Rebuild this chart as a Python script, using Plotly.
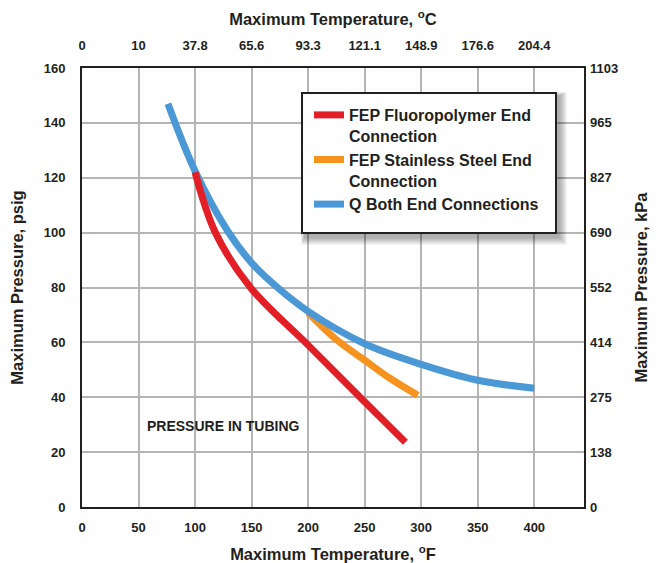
import plotly.graph_objects as go

# ---------------- data ----------------
temp_f_ticks = [0, 50, 100, 150, 200, 250, 300, 350, 400]
temp_c_labels = ["0", "10", "37.8", "65.6", "93.3", "121.1", "148.9", "176.6", "204.4"]
psig_ticks = [0, 20, 40, 60, 80, 100, 120, 140, 160]
kpa_labels = ["0", "138", "275", "414", "552", "690", "827", "965", "1103"]

fep_fluoro_f = [100, 118, 149, 200, 246, 286]
fep_fluoro_psig = [122, 100, 80, 59, 40, 23.6]

fep_ss_f = [200, 225, 250, 272, 297]
fep_ss_psig = [70.8, 61, 53.5, 47, 40.7]

q_both_f = [76, 100, 129, 150, 172, 200, 250, 300, 350, 400]
q_both_psig = [147, 122.5, 100.5, 89, 80.3, 71.3, 59.5, 52, 46.2, 43.3]

names = ["FEP Fluoropolymer End<br>Connection",
         "FEP Stainless Steel End<br>Connection",
         "Q Both End Connections"]
colors = ["#e21f26", "#f6921e", "#4a98d6"]

annotation_text = "PRESSURE IN TUBING"

# ---------------- figure ----------------
W, H = 662, 563
L, R, T, B = 82, 78, 68, 56
PW, PH = W - L - R, H - T - B
INK = "#231f20"
GRID = "#b5b5b5"


def px_x(p):
    return (p - L) / PW


def px_y(p):
    return (H - B - p) / PH


fig = go.Figure()

# draw order: orange, blue, red (red on top); legend order red, orange, blue
fig.add_trace(go.Scatter(x=fep_ss_f, y=fep_ss_psig, mode="lines", name=names[1],
                         line=dict(color=colors[1], width=7, shape="spline", smoothing=1.0),
                         legendrank=2, hoverinfo="skip"))
fig.add_trace(go.Scatter(x=q_both_f, y=q_both_psig, mode="lines", name=names[2],
                         line=dict(color=colors[2], width=7, shape="spline", smoothing=1.0),
                         legendrank=3, hoverinfo="skip"))
fig.add_trace(go.Scatter(x=fep_fluoro_f, y=fep_fluoro_psig, mode="lines", name=names[0],
                         line=dict(color=colors[0], width=7, shape="spline", smoothing=1.0),
                         legendrank=1, hoverinfo="skip"))
# invisible trace to activate secondary axes
fig.add_trace(go.Scatter(x=[None], y=[None], xaxis="x2", yaxis="y2", showlegend=False,
                         hoverinfo="skip", mode="lines"))

tick_font = dict(size=13, weight="bold", color=INK)
title_font = dict(size=16.5, weight="bold", color=INK)

fig.update_layout(
    width=W, height=H,
    margin=dict(l=L, r=R, t=T, b=B, pad=0, autoexpand=False),
    paper_bgcolor="white", plot_bgcolor="white",
    font=dict(family="Liberation Sans, Arial, sans-serif", color=INK),
    showlegend=True,
    xaxis=dict(range=[0, 444], tickvals=temp_f_ticks, showgrid=True, gridcolor=GRID, gridwidth=1.5,
               showline=True, linecolor=INK, linewidth=2, mirror=True, ticks="", zeroline=False,
               tickfont=tick_font, ticklabelstandoff=7, automargin=False,
               title=dict(text="Maximum Temperature, <sup>o</sup>F", font=title_font, standoff=16)),
    yaxis=dict(range=[0, 160], tickvals=psig_ticks, showgrid=True, gridcolor=GRID, gridwidth=1.5,
               showline=True, linecolor=INK, linewidth=2, mirror=True, ticks="", zeroline=False,
               tickfont=tick_font, ticklabelstandoff=12, automargin=False,
               title=dict(text="Maximum Pressure, psig", font=title_font, standoff=16)),
    xaxis2=dict(overlaying="x", side="top", range=[0, 444], tickvals=temp_f_ticks,
                ticktext=temp_c_labels, showgrid=False, showline=False, ticks="", zeroline=False,
                tickfont=tick_font, ticklabelstandoff=14, automargin=False,
                title=dict(text="Maximum Temperature, <sup>o</sup>C", font=title_font, standoff=8)),
    yaxis2=dict(overlaying="y", side="right", range=[0, 160], tickvals=psig_ticks,
                ticktext=kpa_labels, showgrid=False, showline=False, ticks="", zeroline=False,
                tickfont=tick_font, ticklabelstandoff=5, automargin=False,
                title=dict(text="Maximum Pressure, kPa", font=title_font, standoff=18)),
    legend=dict(x=px_x(309), y=px_y(98), xanchor="left", yanchor="top",
                bgcolor="rgba(0,0,0,0)", borderwidth=0, valign="top",
                font=dict(size=16, weight="bold", color=INK), itemwidth=30),
)

# legend box with soft shadow
bx0, by0, bx1, by1 = 302, 93, 556, 233
shapes = []
for i in range(8, 0, -1):
    shapes.append(dict(type="rect", xref="paper", yref="paper", layer="above",
                       x0=px_x(bx0 + 3 - i * 0.5), x1=px_x(bx1 + 3 + i),
                       y0=px_y(by1 + 4 + i), y1=px_y(by0 + 3 - i * 0.5),
                       line=dict(width=0), fillcolor="rgba(0,0,0,0.045)"))
shapes.append(dict(type="rect", xref="paper", yref="paper", layer="above",
                   x0=px_x(bx0), x1=px_x(bx1), y0=px_y(by1), y1=px_y(by0),
                   line=dict(color=INK, width=2), fillcolor="white"))
fig.update_layout(shapes=shapes)

fig.add_annotation(x=56, y=29.5, xref="x", yref="y", text=annotation_text, showarrow=False,
                   xanchor="left", yanchor="middle", font=dict(size=14, weight="bold", color=INK))

fig.write_html("out.html", config={"displayModeBar": False},
               post_script="document.body.style.margin='0';")
